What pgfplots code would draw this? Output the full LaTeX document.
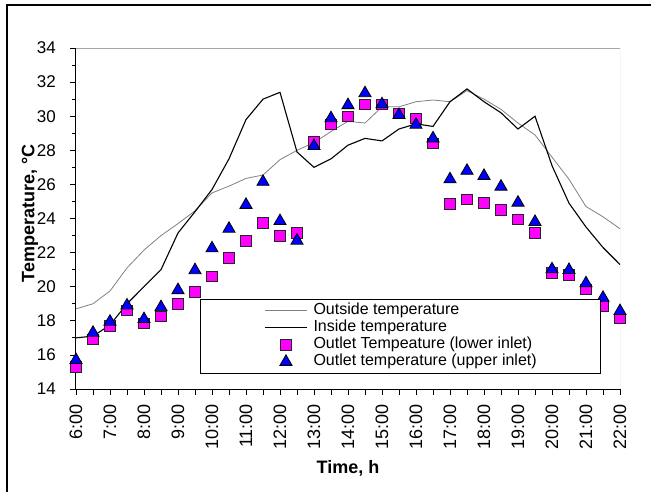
\documentclass[border=0pt]{standalone}
\usepackage{fontspec}
\setmainfont{Liberation Sans}
\usepackage{pgfplots}
\usepackage{pgfplotstable}
\pgfplotsset{compat=1.18}
\definecolor{mag}{RGB}{255,0,255}
\definecolor{blu}{RGB}{0,0,255}

\pgfplotstableread{
t outside inside lower upper
6.0 18.7 17.0 15.3 15.7
6.5 19.0 17.1 16.9 17.3
7.0 19.75 17.75 17.7 17.95
7.5 21.1 19.0 18.6 18.9
8.0 22.15 20.0 17.85 18.1
8.5 23.0 21.0 18.25 18.8
9.0 23.7 23.15 18.98 19.8
9.5 24.45 24.4 19.7 20.97
10.0 25.5 25.7 20.6 22.25
10.5 25.9 27.5 21.7 23.4
11.0 26.35 29.8 22.7 24.8
11.5 26.55 31.0 23.75 26.15
12.0 27.45 31.4 22.97 23.85
12.5 28.0 27.9 23.17 22.7
13.0 28.45 27.0 28.5 28.25
13.5 29.1 27.5 29.52 29.88
14.0 29.7 28.3 30.0 30.65
14.5 29.6 28.7 30.7 31.35
15.0 30.55 28.55 30.7 30.7
15.5 30.55 29.25 30.17 30.07
16.0 30.85 29.55 29.88 29.5
16.5 30.95 29.4 28.4 28.7
17.0 30.85 30.85 24.85 26.3
17.5 31.5 31.6 25.13 26.8
18.0 31.0 30.85 24.93 26.5
18.5 30.4 30.2 24.5 25.87
19.0 29.6 29.25 23.95 24.93
19.5 28.9 30.0 23.17 23.8
20.0 27.6 27.1 20.8 21.02
20.5 26.3 24.9 20.7 20.98
21.0 24.7 23.5 19.85 20.2
21.5 24.1 22.3 18.87 19.35
22.0 23.4 21.3 18.15 18.57
}\data

\begin{document}
\begin{tikzpicture}[x=1pt,y=1pt]
\begin{axis}[
  at={(0pt,0pt)}, anchor=south west,
  scale only axis, width=544pt, height=341pt,
  xmin=6, xmax=22, ymin=14, ymax=34,
  axis lines*=left,
  axis line style={black, line width=1pt},
  tick align=outside,
  tick style={black, line width=0.8pt},
  major tick length=6pt, minor tick length=4pt,
  xtick={6,6.5,...,22},
  xticklabels={6:00,,7:00,,8:00,,9:00,,10:00,,11:00,,12:00,,13:00,,14:00,,15:00,,16:00,,17:00,,18:00,,19:00,,20:00,,21:00,,22:00},
  xticklabel style={font=\fontsize{18}{18}\selectfont, rotate=90, anchor=east, inner sep=0pt},
  xticklabel shift=9pt,
  ytick={14,16,...,34},
  minor y tick num=1,
  yticklabel style={font=\fontsize{17}{17}\selectfont, inner sep=0pt},
  yticklabel shift=14pt,
  /pgf/number format/assume math mode=true,
  xlabel={Time, h},
  xlabel style={at={(axis description cs:0.5,-0.232)}, anchor=center, font=\fontsize{18}{18}\selectfont\bfseries},
  ylabel={Temperature, °C},
  ylabel style={at={(axis description cs:-0.0846,0.515)}, anchor=center, font=\fontsize{18}{18}\selectfont\bfseries},
  legend image code/.code={\draw[mark repeat=2,mark phase=2,#1] plot coordinates {(0pt,0pt) (21pt,0pt) (42pt,0pt)};},
  legend cell align=left,
  legend style={at={(rel axis cs:0.228,0.264)}, anchor=north west, draw=black, line width=0.8pt, fill=white,
    inner xsep=64pt, inner ysep=4pt, row sep=2pt,
    font=\fontsize{16}{16}\selectfont,
    nodes={inner sep=0pt, text height=11.5pt, text depth=3.5pt},
    /tikz/every odd column/.style={column sep=6pt}},
]
\draw[gray!70, line width=1pt] (rel axis cs:0,1) -- (rel axis cs:1,1) -- (rel axis cs:1,0);
\addplot[color=gray, line width=0.8pt, mark=none] table[x=t,y=outside]{\data};
\addlegendentry{Outside temperature}
\addplot[color=black, line width=1.1pt, mark=none] table[x=t,y=inside]{\data};
\addlegendentry{Inside temperature}
\addplot[only marks, mark=square*, mark size=5.3pt, mark options={fill=mag, draw=black!85, line width=0.8pt}] table[x=t,y=lower]{\data};
\addlegendentry{Outlet Tempeature (lower inlet)}
\addplot[only marks, mark=triangle*, mark size=7pt, mark options={fill=blu, draw=black, line width=0.8pt}] table[x=t,y=upper]{\data};
\addlegendentry{Outlet temperature (upper inlet)}
\end{axis}
\pgfresetboundingbox
\path[use as bounding box] (-76,-102) rectangle (575,389);
\draw[black, line width=1.3pt] (-69,-200) -- (-69,384) -- (700,384);
\end{tikzpicture}
\end{document}
